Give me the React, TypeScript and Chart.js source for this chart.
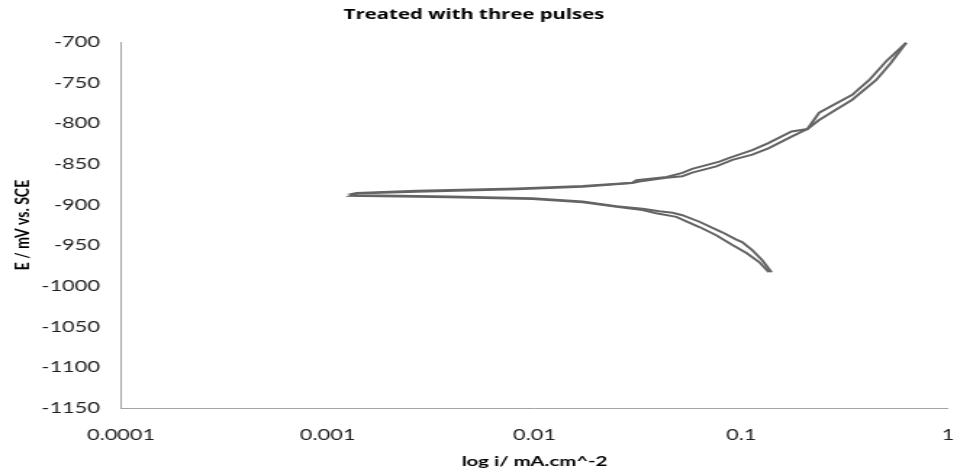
import { useEffect, useRef } from "react";
import { Chart, registerables } from "chart.js";

Chart.register(...registerables);

const chartTitle = "Treated with three pulses";
const xAxisTitle = "log i/ mA.cm^-2";
const yAxisTitle = "E / mV vs. SCE";

const xTickValues = [0.0001, 0.001, 0.01, 0.1, 1];
const xTickLabels = ["0.0001", "0.001", "0.01", "0.1", "1"];
const yTickValues = [-700, -750, -800, -850, -900, -950, -1000, -1050, -1100, -1150];
const yTickLabels = ["-700", "-750", "-800", "-850", "-900", "-950", "-1000", "-1050", "-1100", "-1150"];

// scan 1: cathodic branch (outer line) -> Ecorr tip -> anodic branch (upper line)
const scan1Current = [
  0.140, 0.126, 0.113, 0.101, 0.0946, 0.0809, 0.0627, 0.0519, 0.0465, 0.0402, 0.0333, 0.0249,
  0.0171, 0.00977, 0.00388, 0.00223, 0.00138, 0.0013, 0.00138, 0.00269, 0.00818, 0.0171,
  0.0297, 0.0311, 0.0435, 0.0519, 0.0579, 0.0784, 0.0875, 0.113, 0.136, 0.175, 0.209, 0.238,
  0.344, 0.415, 0.501, 0.627,
];
const scan1Potential = [
  -983, -968, -956, -946, -943, -934, -921, -913, -910, -908, -905, -902,
  -896, -892, -890, -889, -888.5, -887, -885.5, -883, -880, -877,
  -873, -870, -866, -861, -856, -847, -842.5, -833, -824, -810, -807, -787,
  -765, -747, -724, -701,
];

// scan 2: cathodic branch (inner line) -> Ecorr tip -> anodic branch (lower line)
const scan2Current = [
  0.136, 0.122, 0.106, 0.0906, 0.0757, 0.0627, 0.0485, 0.0388, 0.0333, 0.0249, 0.0171,
  0.00977, 0.00388, 0.00223, 0.00129, 0.00138, 0.00269, 0.00818, 0.0171, 0.0297, 0.0321,
  0.0435, 0.0519, 0.0579, 0.0757, 0.0906, 0.113, 0.136, 0.176, 0.209, 0.238, 0.344, 0.448,
  0.528, 0.627,
];
const scan2Potential = [
  -983, -970.5, -959.5, -949.5, -937.5, -927.5, -915, -910.5, -906.5, -902.5, -897,
  -893, -891, -890, -889, -886.3, -884, -881, -878, -873.5, -871.5,
  -867, -865, -860.5, -853, -845, -838.5, -830.5, -816, -807, -796, -771, -747,
  -726, -701,
];

// the reference picture is horizontally stretched; draw on a narrower canvas and stretch it
const SCREEN_W = 957;
const SCREEN_H = 471;
const CANVAS_W = 660;
const SX = CANVAS_W / SCREEN_W;

export default function App() {
  const ref = useRef<HTMLCanvasElement | null>(null);

  useEffect(() => {
    if (!ref.current) return;
    const lineColor = "#646464";
    const tickFont = { family: "Lato", size: 15 };
    const chart = new Chart(ref.current, {
      type: "scatter",
      data: {
        datasets: [
          {
            label: "scan 1",
            data: scan1Current.map((x, i) => ({ x, y: scan1Potential[i] })),
            showLine: true,
            borderColor: lineColor,
            borderWidth: 2,
            pointRadius: 0,
            tension: 0,
          },
          {
            label: "scan 2",
            data: scan2Current.map((x, i) => ({ x, y: scan2Potential[i] })),
            showLine: true,
            borderColor: lineColor,
            borderWidth: 2,
            pointRadius: 0,
            tension: 0,
          },
        ],
      },
      options: {
        animation: false,
        responsive: false,
        devicePixelRatio: 1,
        layout: { padding: { left: 0, right: (SCREEN_W - 948) * SX, top: 0, bottom: 0 } },
        plugins: {
          legend: { display: false },
          tooltip: { enabled: false },
          title: {
            display: true,
            text: chartTitle,
            color: "#000",
            font: { family: "Open Sans", size: 14, weight: "bold" },
            padding: { top: 7, bottom: 18.2 },
          },
        },
        scales: {
          x: {
            type: "logarithmic",
            min: 0.0001,
            max: 1,
            afterBuildTicks: (scale: any) => {
              scale.ticks = xTickValues.map((v) => ({ value: v }));
            },
            afterFit: (scale: any) => {
              scale.height = 471 - 408;
              scale.paddingLeft = 0;
              scale.paddingRight = 0;
            },
            ticks: {
              autoSkip: false,
              maxRotation: 0,
              padding: 18,
              color: "#1f1f1f",
              font: tickFont,
              callback: (_v: any, i: number) => xTickLabels[i],
            },
            grid: { display: false, drawTicks: false },
            border: { display: true, color: "#a3a3a3", width: 1 },
            title: {
              display: true,
              text: xAxisTitle,
              color: "#000",
              font: { family: "Lato", size: 14, weight: "bold" },
              padding: { top: 0, bottom: 1.6 },
            },
          },
          y: {
            type: "linear",
            min: -1150,
            max: -700,
            afterBuildTicks: (scale: any) => {
              scale.ticks = yTickValues.map((v) => ({ value: v }));
            },
            afterFit: (scale: any) => {
              scale.width = 121 * SX;
            },
            ticks: {
              autoSkip: false,
              padding: 14.5,
              color: "#1f1f1f",
              font: tickFont,
              callback: (_v: any, i: number) => yTickLabels[i],
            },
            grid: { display: false, drawTicks: false },
            border: { display: true, color: "#a3a3a3", width: 1 },
            title: {
              display: true,
              text: yAxisTitle,
              color: "#000",
              font: { family: "Lato", size: 14, weight: "bold" },
              padding: { top: 7, bottom: 0 },
            },
          },
        },
      },
    } as any);
    return () => chart.destroy();
  }, []);

  return (
    <div style={{ position: "absolute", left: 0, top: 0, width: SCREEN_W, height: SCREEN_H, background: "#fff" }}>
      <canvas
        ref={ref}
        width={CANVAS_W}
        height={SCREEN_H}
        style={{ display: "block", width: SCREEN_W + "px", height: SCREEN_H + "px" }}
      />
    </div>
  );
}
